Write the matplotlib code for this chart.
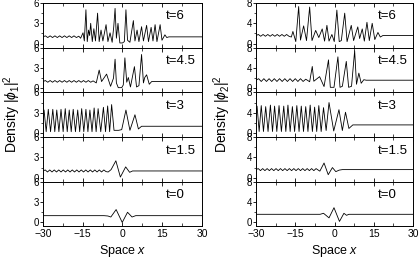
import matplotlib
matplotlib.use("Agg")
import matplotlib.pyplot as plt
from matplotlib.ticker import MultipleLocator

plt.rcParams['font.family'] = ['Liberation Sans', 'DejaVu Sans']
plt.rcParams['mathtext.fontset'] = 'custom'
plt.rcParams['mathtext.rm'] = 'Liberation Sans'
plt.rcParams['mathtext.it'] = 'Liberation Sans:italic'

# ---- data: component 1 (left column) ----
x_l6 = [-30, -29.1, -28.2, -27.3, -26.4, -25.5, -24.6, -23.7, -22.8, -21.9, -21.0, -20.1,
        -19.2, -18.3, -17.4, -16.5, -15.8, -14.9, -14.4, -13.8, -13.3, -12.8, -12.4, -12.0,
        -11.4, -10.8, -10.2, -9.4, -8.8, -8.1, -7.4, -6.2, -5.5, -4.7, -3.9, -3.3, -2.8,
        -2.3, -1.7, -1.0, 0.0, 0.7, 1.3, 1.9, 2.8, 4.1, 4.7, 5.5, 6.2, 7.2, 7.9, 9.1, 9.8,
        10.8, 11.5, 12.3, 13.0, 14.2, 14.9, 16.0, 16.7, 17.5, 30]
y_l6 = [1.0, 1.15, 0.9, 1.15, 0.9, 1.15, 0.9, 1.15, 0.9, 1.15, 0.9, 1.15,
        0.9, 1.15, 0.9, 1.1, 0.8, 1.6, 0.4, 5.0, 0.3, 2.0, 1.2, 3.0,
        0.3, 2.2, 0.4, 4.5, 0.3, 2.0, 0.4, 2.8, 0.3, 1.6, 0.2, 2.5, 5.2,
        0.8, 3.0, 0.1, 0.1, 0.3, 5.0, 0.5, 0.2, 3.4, 0.4, 2.0, 0.3, 2.5, 0.4, 2.7, 0.3,
        2.4, 0.4, 2.8, 0.3, 2.8, 0.5, 1.3, 0.9, 1.0, 1.0]

x_l45 = [-30, -29.1, -28.2, -27.3, -26.4, -25.5, -24.6, -23.7, -22.8, -21.9, -21.0, -20.1,
         -19.2, -18.3, -17.4, -16.5, -15.6, -14.7, -13.8, -12.9, -12.0, -11.1,
         -9.9, -8.8, -7.9, -6.0, -4.5, -3.4, -2.8, -2.3, -1.6, -0.3, 0.3, 0.9, 1.6, 2.2,
         3.0, 4.5, 5.3, 6.2, 7.2, 7.9, 8.4, 9.1, 10.1, 11.0, 30]
y_l45 = [1.0, 1.15, 0.9, 1.15, 0.9, 1.15, 0.9, 1.15, 0.9, 1.15, 0.9, 1.15,
         0.9, 1.15, 0.9, 1.15, 0.9, 1.15, 0.9, 1.15, 0.9, 1.1,
         0.8, 2.7, 1.0, 2.1, 0.3, 1.5, 4.3, 0.8, 0.1, 0.1, 0.5, 4.5, 0.9, 1.6,
         0.2, 3.2, 0.2, 0.4, 5.0, 0.8, 1.6, 2.0, 0.6, 1.0, 1.0]

x_l3 = [-30, -29.6, -28.8, -28.0, -27.15, -26.3, -25.55, -24.8, -24.0, -23.2, -22.4, -21.6,
        -20.85, -20.1, -19.35, -18.6, -17.75, -16.9, -16.15, -15.4, -14.6, -13.8, -13.05,
        -12.3, -11.5, -10.7, -9.95, -9.2, -8.2, -7.2, -6.4, -5.6, -4.85, -4.1, -3.2, -1.5,
        -0.3, 1.3, 2.8, 4.7, 6.0, 7.2, 30]
y_l3 = [1.5, 3.4, 0.2, 3.5, 0.2, 3.5, 0.2, 3.4, 0.2, 3.5, 0.2, 3.6,
        0.2, 3.4, 0.2, 3.5, 0.2, 3.4, 0.2, 3.6, 0.2, 3.5, 0.2,
        3.4, 0.2, 3.7, 0.2, 3.6, 0.2, 3.8, 0.2, 4.0, 0.2, 4.2, 0.4, 0.4,
        0.5, 3.4, 0.4, 2.7, 0.6, 1.0, 1.0]

x_l15 = [-30, -29.15, -28.3, -27.45, -26.6, -25.75, -24.9, -24.05, -23.2, -22.35, -21.5,
         -20.65, -19.8, -18.95, -18.1, -17.25, -16.4, -15.55, -14.7, -13.85, -13.0, -12.15,
         -11.3, -10.45, -9.6, -8.75, -7.9, -7.05, -6.2, -5.4, -4.3, -2.5, -0.8, 1.2, 2.7,
         3.8, 30]
y_l15 = [1.0, 1.15, 0.85, 1.15, 0.85, 1.15, 0.85, 1.15, 0.85, 1.15, 0.85,
         1.15, 0.85, 1.15, 0.85, 1.15, 0.85, 1.15, 0.85, 1.15, 0.85, 1.15,
         0.85, 1.15, 0.85, 1.15, 0.85, 1.15, 0.9, 0.85, 1.2, 2.5, 0.1, 1.6, 0.8,
         1.0, 1.0]

x_l0 = [-30, -7.0, -5.5, -4.4, -2.4, -0.1, 1.9, 3.6, 5.0, 30]
y_l0 = [1.0, 1.0, 0.95, 0.8, 1.9, 0.0, 1.5, 0.8, 1.0, 1.0]

# ---- component 2 (right column) ----
x_r6 = [-30, -29.1, -28.2, -27.3, -26.4, -25.5, -24.6, -23.7, -22.8, -21.9, -21.0, -20.1,
        -19.2, -18.3, -17.4, -16.5, -15.9, -14.8, -13.7, -13.0, -11.8, -10.7, -9.5, -8.6,
        -7.2, -6.0, -4.7, -3.8, -2.9, -2.1, -1.0, -0.1, 0.9, 1.8, 2.6, 3.9, 4.8, 6.4, 7.3,
        8.9, 9.6, 10.6, 11.4, 12.4, 13.3, 14.4, 15.4, 16.6, 17.5, 18.5, 30]
y_r6 = [1.6, 1.8, 1.45, 1.8, 1.45, 1.8, 1.45, 1.8, 1.45, 1.8, 1.45, 1.8,
        1.45, 1.8, 1.45, 1.3, 2.4, 0.4, 7.3, 0.7, 3.5, 0.6, 7.2, 0.6,
        2.6, 1.2, 2.9, 0.5, 3.6, 0.5, 1.8, 0.4, 6.6, 0.4, 0.6, 6.0, 0.4, 3.6, 0.6,
        3.3, 1.0, 2.9, 0.5, 4.2, 0.6, 4.0, 0.8, 2.2, 1.3, 1.6, 1.6]

x_r45 = [-30, -29, -28, -27, -26, -25, -24, -23, -22, -21, -20, -19, -18, -17, -16, -15,
         -14, -13, -12, -11, -9.5, -8.5, -7.9, -5.7, -4.0, -2.3, -1.6, -0.2, 1.3, 2.1, 3.0,
         4.5, 5.4, 6.5, 7.7, 8.4, 9.3, 10.2, 11.2, 12.1, 30]
y_r45 = [1.6, 1.9, 1.35, 1.9, 1.35, 1.9, 1.35, 1.9, 1.35, 1.9, 1.35, 1.9, 1.35, 1.9, 1.35, 1.9,
         1.35, 1.9, 1.35, 1.8, 1.3, 4.3, 1.4, 2.3, 0.35, 5.6, 0.2, 0.2, 6.2, 0.2, 0.4,
         5.3, 0.2, 0.4, 7.4, 0.8, 3.0, 1.0, 1.7, 1.6, 1.6]

x_r3 = [-30, -29.6, -28.8, -28.0, -27.15, -26.3, -25.4, -24.5, -23.7, -22.9, -22.05, -21.2,
        -20.3, -19.4, -18.6, -17.8, -16.95, -16.1, -15.25, -14.4, -13.55, -12.7, -11.85,
        -11.0, -10.15, -9.3, -8.45, -7.6, -6.8, -6.0, -5.1, -4.2, -3.2, -2.1, -0.3, 1.7,
        3.0, 4.2, 5.5, 7.0, 30]
y_r3 = [4.0, 5.3, 0.3, 5.4, 0.3, 5.2, 0.3, 5.5, 0.3, 5.3, 0.3, 5.4,
        0.3, 5.3, 0.3, 5.5, 0.3, 5.2, 0.3, 5.4, 0.3, 5.3, 0.3,
        5.2, 0.3, 5.5, 0.3, 5.1, 0.3, 5.4, 0.3, 5.0, 0.5, 6.0, 0.4, 4.6,
        0.5, 4.1, 0.9, 1.6, 1.6]

x_r15 = [-30, -29.15, -28.3, -27.45, -26.6, -25.75, -24.9, -24.05, -23.2, -22.35, -21.5,
         -20.65, -19.8, -18.95, -18.1, -17.25, -16.4, -15.55, -14.7, -13.85, -13.0, -12.15,
         -11.3, -10.45, -9.6, -8.75, -7.9, -7.05, -6.2, -5.6, -4.0, -2.4, -0.8, 0.5, 1.8,
         3.0, 30]
y_r15 = [1.6, 1.8, 1.4, 1.8, 1.4, 1.8, 1.4, 1.8, 1.4, 1.8, 1.4,
         1.8, 1.4, 1.8, 1.4, 1.8, 1.4, 1.8, 1.4, 1.8, 1.4, 1.8,
         1.4, 1.8, 1.4, 1.8, 1.4, 1.8, 1.5, 1.3, 2.9, 0.6, 2.0, 1.2, 1.5,
         1.6, 1.6]

x_r0 = [-30, -5.5, -4.2, -2.1, -0.2, 1.9, 3.6, 4.6, 5.5, 30]
y_r0 = [1.6, 1.6, 1.8, 0.9, 2.9, 0.2, 1.8, 1.4, 1.6, 1.6]

times = ["t=6", "t=4.5", "t=3", "t=1.5", "t=0"]
left_curves = [(x_l6, y_l6), (x_l45, y_l45), (x_l3, y_l3), (x_l15, y_l15), (x_l0, y_l0)]
right_curves = [(x_r6, y_r6), (x_r45, y_r45), (x_r3, y_r3), (x_r15, y_r15), (x_r0, y_r0)]
x_ticks = [-30, -15, 0, 15, 30]

fig = plt.figure(figsize=(4.19, 2.63), dpi=100)

top = 0.9886
bottom = 0.1388
h = (top - bottom) / 5

columns = [
    (0.1026, 0.3795, left_curves, 6, 0.6, 3),
    (0.611, 0.3747, right_curves, 8, 0.8, 4),
]

for x0, w, curves, ymax, yneg, ystep in columns:
    for i, (xs, ys) in enumerate(curves):
        ax = fig.add_axes([x0, top - (i + 1) * h, w, h])
        ax.plot(xs, ys, color="black", lw=0.6)
        ax.set_xlim(-30, 30)
        ax.set_ylim(-yneg, ymax)
        ax.set_xticks(x_ticks)
        ax.xaxis.set_minor_locator(MultipleLocator(7.5))
        ax.set_yticks([0, ystep, 2 * ystep])
        ax.yaxis.set_minor_locator(MultipleLocator(ystep / 2))
        ax.tick_params(axis="x", which="both", direction="in", top=True,
                       labelsize=7.5, pad=2)
        ax.tick_params(axis="x", which="major", length=3, width=0.6)
        ax.tick_params(axis="x", which="minor", length=2, width=0.5)
        ax.tick_params(axis="y", which="both", direction="out", labelsize=7, pad=1)
        ax.tick_params(axis="y", which="major", length=2, width=0.6)
        ax.tick_params(axis="y", which="minor", length=1.5, width=0.5)
        if i < 4:
            ax.tick_params(axis="x", labelbottom=False)
        else:
            ax.set_xlabel(r"Space $x$", fontsize=9, labelpad=3)
        for s in ax.spines.values():
            s.set_linewidth(0.7)
        ax.text(0.775, 0.70, times[i], transform=ax.transAxes, fontsize=9.5,
                ha="left", va="center")

fig.text(0.03, 0.565, r"Density $|\phi_1|^2$", rotation=90, fontsize=10,
         ha="center", va="center")
fig.text(0.53, 0.565, r"Density $|\phi_2|^2$", rotation=90, fontsize=10,
         ha="center", va="center")

fig.savefig("out.png", dpi=100)
